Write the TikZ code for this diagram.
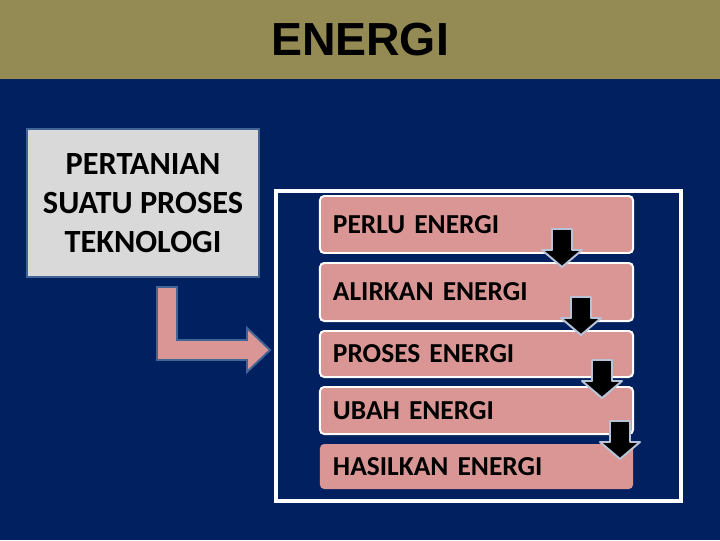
\documentclass[tikz,border=0pt]{standalone}
\usepackage{fontspec}
\newfontfamily\boxfont{Carlito}
\newfontfamily\headfont{Liberation Sans}

\definecolor{slidenavy}{RGB}{0,32,96}
\definecolor{headolive}{RGB}{148,138,84}
\definecolor{steppink}{RGB}{217,150,148}
\definecolor{boxgray}{RGB}{217,217,217}
\definecolor{edgeblue}{RGB}{65,100,150}
\definecolor{arrowgray}{RGB}{185,195,215}

\tikzset{
  blockdown/.pic={
    \draw[fill=black,draw=arrowgray,line width=1.4pt,line join=round]
      (-10,0) -- (10,0) -- (10,21) -- (20,21) -- (0,38) -- (-20,21) -- (-10,21) -- cycle;
  }
}

\begin{document}
\begin{tikzpicture}[x=0.025cm,y=-0.025cm,
  stepbox/.style={fill=steppink,draw=white,line width=1.4pt,rounded corners=3pt,
    minimum width=7.825cm,text width=7.175cm,inner xsep=0.325cm,inner ysep=0pt,
    align=left,font=\boxfont\bfseries\fontsize{19.5}{22}\selectfont},
  techbox/.style={fill=boxgray,draw=edgeblue,line width=1.4pt,
    minimum width=5.8cm,minimum height=3.7cm,align=center,
    font=\boxfont\bfseries\fontsize{23}{27.5}\selectfont}
]
\useasboundingbox (0,0) rectangle (720,540);
\fill[slidenavy] (0,0) rectangle (720,540);
% title band
\fill[headolive] (0,0) rectangle (720,79);
\node[font=\headfont\bfseries\fontsize{33}{36}\selectfont] (judul) at (360,40) {ENERGI};

\node[techbox] (tani) at (143,203) {PERTANIAN\\SUATU PROSES\\TEKNOLOGI};

% bent arrow
\draw[fill=steppink,draw=edgeblue,line width=1.4pt]
  (157,287) -- (177,287) -- (177,340) -- (247,340) -- (247,328) -- (270,350)
  -- (247,372) -- (247,360) -- (157,360) -- cycle;

% frame round the steps
\draw[white,line width=3.5pt] (276,191) rectangle (681,501);

\node[stepbox,minimum height=1.425cm] (perlu) at (476.5,224.5) {PERLU ENERGI};
\node[stepbox,minimum height=1.45cm] (alir) at (476.5,292) {ALIRKAN ENERGI};
\node[stepbox,minimum height=1.15cm] (proses) at (476.5,354) {PROSES ENERGI};
\node[stepbox,minimum height=1.175cm] (ubah) at (476.5,410.5) {UBAH ENERGI};
\node[stepbox,draw=none,minimum height=1.125cm] (hasil) at (476.5,466.5) {HASILKAN ENERGI};

\pic at (562,229) {blockdown};
\pic at (581,297) {blockdown};
\pic at (602,360) {blockdown};
\pic at (620,421) {blockdown};
\end{tikzpicture}
\end{document}
